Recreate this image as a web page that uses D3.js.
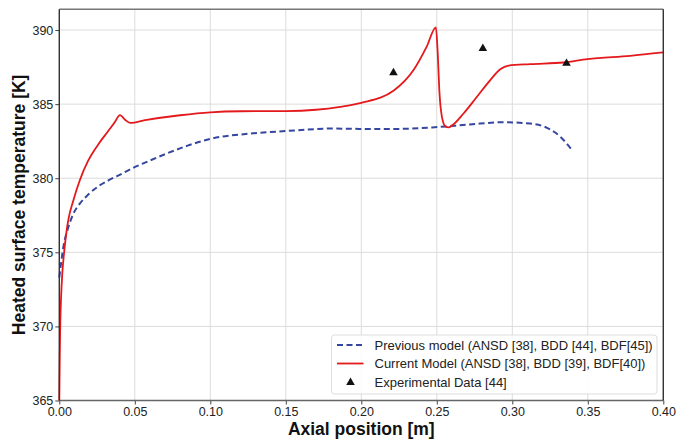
<!DOCTYPE html>
<html lang="en">
  <head>
    <meta charset="UTF-8" />
    <title>Heated surface temperature</title>
    <style>
      * {
        font-family: "Liberation Sans", Arial, sans-serif;
      }
      body {
        margin: 0;
        background: #fff;
      }
      .grid line {
        stroke: #dcdcdc;
        stroke-width: 1;
      }
      .axis text {
        font-size: 12.5px;
        fill: #222;
      }
      .axis path {
        display: none;
      }
      .axis line {
        stroke: #444;
      }
    </style>
    <script src="https://cdn.jsdelivr.net/npm/d3@7"></script>
  </head>
  <body>
    <div class="chart-box"></div>
    <script>
      // current model (red, solid)
      const currentX = [0, 0.0003, 0.0006, 0.0012, 0.002, 0.0032, 0.0045, 0.006, 0.0093, 0.0137, 0.0192, 0.0259, 0.0325, 0.0365, 0.0402, 0.0435, 0.0469, 0.0568, 0.08, 0.1, 0.12, 0.15, 0.17, 0.186, 0.2, 0.2213, 0.2346, 0.2434, 0.2494, 0.2505, 0.2518, 0.2534, 0.2556, 0.2578, 0.26, 0.2677, 0.2766, 0.2854, 0.292, 0.2975, 0.3119, 0.334, 0.3498, 0.3781, 0.4];
      const currentY = [365, 368, 370, 372, 373.6, 375, 376.2, 377.2, 378.5, 379.9, 381.2, 382.3, 383.2, 383.75, 384.26, 383.95, 383.74, 383.92, 384.25, 384.45, 384.52, 384.53, 384.62, 384.82, 385.09, 385.9, 387.3, 388.9, 390.18, 388.65, 385.72, 384.14, 383.51, 383.43, 383.55, 384.37, 385.5, 386.62, 387.35, 387.6, 387.7, 387.81, 388.04, 388.26, 388.49];

      // previous model (blue, dashed)
      const previousX = [0, 0.0027, 0.006, 0.0093, 0.0137, 0.0192, 0.0258, 0.0325, 0.0413, 0.0502, 0.0568, 0.0712, 0.085, 0.101, 0.125, 0.1496, 0.18, 0.2, 0.2258, 0.2503, 0.272, 0.2942, 0.3118, 0.323, 0.3318, 0.3395];
      const previousY = [373.3, 375.36, 376.7, 377.6, 378.3, 378.9, 379.45, 379.85, 380.3, 380.76, 381.05, 381.67, 382.2, 382.68, 383.0, 383.18, 383.35, 383.33, 383.33, 383.45, 383.63, 383.78, 383.69, 383.4, 382.8, 381.9];

      // experimental data (triangles)
      const expX = [0.2213, 0.2805, 0.3359];
      const expY = [387.12, 388.76, 387.75];

      const xTicks = [0, 0.05, 0.1, 0.15, 0.2, 0.25, 0.3, 0.35, 0.4];
      const yTicks = [365, 370, 375, 380, 385, 390];

      const legendLabels = [
        "Previous model (ANSD [38], BDD [44], BDF[45])",
        "Current Model (ANSD [38], BDD [39], BDF[40])",
        "Experimental Data [44]",
      ];

      function init() {
        const W = 677,
          H = 441;
        const margin = { top: 9.3, right: 13.7, bottom: 40.5, left: 59.3 };
        const width = W - margin.left - margin.right;
        const height = H - margin.top - margin.bottom;

        const svg = d3
          .select(".chart-box")
          .append("svg")
          .attr("width", W)
          .attr("height", H);

        const x = d3.scaleLinear().domain([0, 0.4]).range([0, width]);
        const y = d3.scaleLinear().domain([365, 391.4]).range([height, 0]);

        const g = svg
          .append("g")
          .attr("transform", "translate(" + margin.left + "," + margin.top + ")");

        // grid
        g.append("g")
          .attr("class", "grid")
          .selectAll("line")
          .data(xTicks)
          .enter()
          .append("line")
          .attr("x1", (d) => x(d))
          .attr("x2", (d) => x(d))
          .attr("y1", 0)
          .attr("y2", height);
        g.append("g")
          .attr("class", "grid")
          .selectAll("line")
          .data(yTicks)
          .enter()
          .append("line")
          .attr("x1", 0)
          .attr("x2", width)
          .attr("y1", (d) => y(d))
          .attr("y2", (d) => y(d));

        // axes
        g.append("g")
          .attr("class", "axis")
          .attr("transform", "translate(0," + height + ")")
          .call(
            d3.axisBottom(x).tickValues(xTicks).tickSize(4).tickPadding(3).tickFormat(d3.format(".2f"))
          );
        g.append("g")
          .attr("class", "axis")
          .call(d3.axisLeft(y).tickValues(yTicks).tickSize(4).tickPadding(2));

        // lines
        const line = d3
          .line()
          .x((d) => x(d[0]))
          .y((d) => y(d[1]))
          .curve(d3.curveMonotoneX);

        const prevData = previousX.map((v, i) => [v, previousY[i]]);
        const currData = currentX.map((v, i) => [v, currentY[i]]);

        g.append("path")
          .datum(prevData)
          .attr("fill", "none")
          .attr("stroke", "#3446a0")
          .attr("stroke-width", 2)
          .attr("stroke-dasharray", "6,3.5")
          .attr("d", line);

        g.append("path")
          .datum(currData)
          .attr("fill", "none")
          .attr("stroke", "#e3191c")
          .attr("stroke-width", 1.8)
          .attr("d", line);

        const tri = d3.symbol().type(d3.symbolTriangle).size(32);
        g.selectAll(".exp")
          .data(expX.map((v, i) => [v, expY[i]]))
          .enter()
          .append("path")
          .attr("class", "exp")
          .attr("d", tri)
          .attr("fill", "#111")
          .attr("transform", (d) => "translate(" + x(d[0]) + "," + y(d[1]) + ")");

        // spines
        g.append("line").attr("x1", 0).attr("x2", width).attr("y1", 0).attr("y2", 0)
          .attr("stroke", "#777").attr("stroke-width", 1.6);
        g.append("line").attr("x1", 0).attr("x2", width).attr("y1", height).attr("y2", height)
          .attr("stroke", "#666").attr("stroke-width", 1.4);
        g.append("line").attr("x1", 0).attr("x2", 0).attr("y1", 0).attr("y2", height)
          .attr("stroke", "#333").attr("stroke-width", 1.4);
        g.append("line").attr("x1", width).attr("x2", width).attr("y1", 0).attr("y2", height)
          .attr("stroke", "#333").attr("stroke-width", 1.4);

        // legend
        const lg = svg.append("g").attr("transform", "translate(331.5,335)");
        lg.append("rect")
          .attr("width", 325.5)
          .attr("height", 59)
          .attr("rx", 3)
          .attr("fill", "#fff")
          .attr("fill-opacity", 0.85)
          .attr("stroke", "#ddd");
        const rows = [10, 28.5, 47.5];
        lg.append("line").attr("x1", 5.5).attr("x2", 32).attr("y1", rows[0]).attr("y2", rows[0])
          .attr("stroke", "#3446a0").attr("stroke-width", 2).attr("stroke-dasharray", "6,3.5");
        lg.append("line").attr("x1", 5.5).attr("x2", 32).attr("y1", rows[1]).attr("y2", rows[1])
          .attr("stroke", "#e3191c").attr("stroke-width", 1.8);
        lg.append("path").attr("d", tri).attr("fill", "#111")
          .attr("transform", "translate(19," + rows[2] + ")");
        lg.selectAll(".lt")
          .data(legendLabels)
          .enter()
          .append("text")
          .attr("class", "lt")
          .attr("x", 43)
          .attr("y", (d, i) => rows[i])
          .attr("dy", "0.35em")
          .attr("font-size", "13px")
          .attr("fill", "#222")
          .text((d) => d);

        // axis titles
        svg.append("text")
          .attr("x", margin.left + width / 2)
          .attr("y", 435)
          .attr("text-anchor", "middle")
          .attr("font-size", "17.5px")
          .attr("font-weight", "bold")
          .attr("fill", "#111")
          .text("Axial position [m]");
        svg.append("text")
          .attr("transform", "translate(25," + (margin.top + height / 2) + ") rotate(-90)")
          .attr("text-anchor", "middle")
          .attr("font-size", "17.5px")
          .attr("font-weight", "bold")
          .attr("fill", "#111")
          .text("Heated surface temperature [K]");
      }

      init();
    </script>
  </body>
</html>
